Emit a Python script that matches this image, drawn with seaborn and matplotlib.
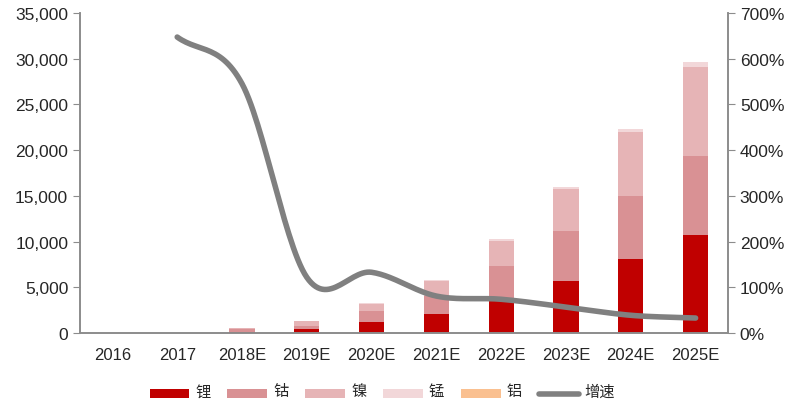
import numpy as np
import pandas as pd
import seaborn as sns
import matplotlib.pyplot as plt
from matplotlib.patches import Patch, Rectangle
from matplotlib.lines import Line2D
from matplotlib.legend_handler import HandlerPatch, HandlerLine2D

years = ["2016", "2017", "2018E", "2019E", "2020E", "2021E", "2022E", "2023E", "2024E", "2025E"]
lithium = [0, 10, 150, 440, 1200, 2080, 3500, 5700, 8100, 10700]
cobalt = [0, 15, 250, 320, 1200, 1950, 3800, 5500, 6900, 8600]
nickel = [0, 10, 150, 540, 770, 1670, 2770, 4550, 7000, 9800]
manganese = [0, 0, 20, 40, 80, 100, 270, 250, 300, 500]
aluminum = [0, 0, 0, 0, 0, 0, 0, 0, 0, 0]
growth = [np.nan, 647, 545, 122, 133, 81, 74, 57, 39, 33]

series = ["锂", "钴", "镍", "锰", "铝"]
values = [lithium, cobalt, nickel, manganese, aluminum]
colors = ["#C00000", "#D99194", "#E6B4B6", "#F2D7D9", "#FAC090"]
line_color = "#808080"
axis_color = "#8C8C8C"

sns.set_style("white")
plt.rcParams["font.family"] = ["Liberation Sans", "Noto Sans CJK SC", "DejaVu Sans"]

fig = plt.figure(figsize=(8, 4.06), dpi=100)
ax = fig.add_axes([0.1, 0.177, 0.81, 0.789])

bottom = np.zeros(len(years))
for name, vals, c in zip(series, values, colors):
    df = pd.DataFrame({"year": years, "v": vals})
    sns.barplot(data=df, x="year", y="v", color=c, width=0.39, bottom=bottom,
                ax=ax, saturation=1, edgecolor="none")
    bottom += np.array(vals, dtype=float)

ax.set_ylim(0, 35000)
ax.set_xlim(-0.5, 9.5)
ax.set_yticks(np.arange(0, 35001, 5000))
ax.set_yticklabels([f"{v:,}" for v in range(0, 35001, 5000)], fontsize=12.5)
ax.set_xlabel("")
ax.set_ylabel("")
ax.tick_params(axis="x", which="major", length=0, labelsize=12, pad=10)
ax.set_xticks(np.arange(-0.5, 10, 1), minor=True)
ax.tick_params(axis="x", which="minor", length=5, color=axis_color, direction="out")
ax.tick_params(axis="y", length=5, color=axis_color, direction="out", left=True)
for s in ["left", "bottom", "right"]:
    ax.spines[s].set_color(axis_color)
    ax.spines[s].set_linewidth(1.2)
ax.spines["top"].set_visible(False)

# right axis: growth rate, drawn as a smoothed curve
ax2 = ax.twinx()
ax2.set_ylim(0, 700)
ax2.set_yticks(np.arange(0, 701, 100))
ax2.set_yticklabels([f"{v}%" for v in range(0, 701, 100)], fontsize=12.5)
ax2.tick_params(axis="y", length=5, color=axis_color, direction="out")
for s in ["left", "bottom", "right"]:
    ax2.spines[s].set_color(axis_color)
    ax2.spines[s].set_linewidth(1.2)
ax2.spines["top"].set_visible(False)

gx = np.arange(1, len(years), dtype=float)
gy = np.array(growth[1:], dtype=float)
# Catmull-Rom smoothing (render only)
px = np.concatenate([[2 * gx[0] - gx[1]], gx, [2 * gx[-1] - gx[-2]]])
py = np.concatenate([[2 * gy[0] - gy[1]], gy, [2 * gy[-1] - gy[-2]]])
sx, sy = [], []
t = np.linspace(0, 1, 30)
for i in range(1, len(px) - 2):
    p0, p1, p2, p3 = px[i - 1:i + 3]
    q0, q1, q2, q3 = py[i - 1:i + 3]
    f = lambda a0, a1, a2, a3: 0.5 * ((2 * a1) + (-a0 + a2) * t
                                      + (2 * a0 - 5 * a1 + 4 * a2 - a3) * t ** 2
                                      + (-a0 + 3 * a1 - 3 * a2 + a3) * t ** 3)
    sx.extend(f(p0, p1, p2, p3))
    sy.extend(f(q0, q1, q2, q3))
sns.lineplot(x=sx, y=sy, ax=ax2, color=line_color, linewidth=4, sort=False,
             solid_capstyle="round")

# legend handles shifted down a little so they sit level with the CJK labels
SHIFT = 2.5


def low_rect(legend, orig_handle, xdescent, ydescent, width, height, fontsize):
    return Rectangle((-xdescent, -ydescent - SHIFT), width, height)


class LowLine(HandlerLine2D):
    def create_artists(self, *args, **kw):
        arts = super().create_artists(*args, **kw)
        for a in arts:
            a.set_ydata(np.asarray(a.get_ydata()) - SHIFT)
        return arts


handles = [Patch(facecolor=c, edgecolor="none", label=n) for n, c in zip(series, colors)]
growth_handle = Line2D([0], [0], color=line_color, linewidth=4, label="增速",
                       solid_capstyle="round")
handles.append(growth_handle)
hmap = {h: HandlerPatch(patch_func=low_rect) for h in handles[:-1]}
hmap[growth_handle] = LowLine()
fig.legend(handles=handles, loc="center", ncol=6, frameon=False, handler_map=hmap,
           bbox_to_anchor=(0.478, 0.035), handlelength=2.6, handleheight=0.55,
           columnspacing=1.1, handletextpad=0.4,
           prop={"family": ["Noto Sans CJK SC"], "size": 11})

fig.savefig("out.png", dpi=100)
